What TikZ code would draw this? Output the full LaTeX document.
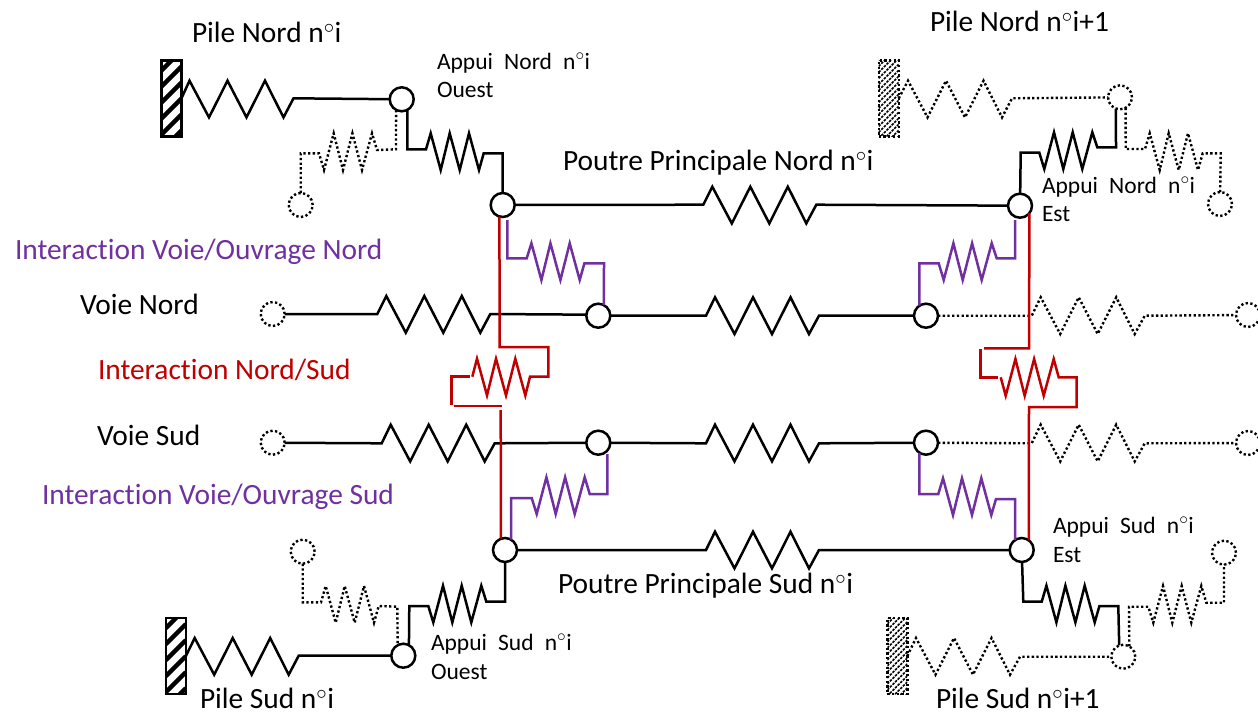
\documentclass[tikz,border=0pt]{standalone}
\usepackage{fontspec}
\setmainfont[Ligatures=CommonOff]{Carlito}
\definecolor{viol}{HTML}{7030A0}
\definecolor{rouge}{HTML}{C00000}
\newcommand\sprBig[3]{-- ({#1+9},{#2}) -- ({#1+28.5},{#2+36.7}) -- ({#1+47},{#2}) -- ({#1+66},{#2+36.7}) -- ({#1+84.5},{#2}) -- ({#1+103},{#2+36.7}) -- ({#1+113},{#3})}
\newcommand\sprUp[3]{-- ({#1+4.7},{#2}) -- ({#1+14.7},{#2+36.7}) -- ({#1+23.7},{#2}) -- ({#1+33.7},{#2+36.7}) -- ({#1+43},{#2}) -- ({#1+53},{#2+36.7}) -- ({#1+57.7},{#3})}
\newcommand\sprDn[3]{-- ({#1+5},{#2+36.7}) -- ({#1+14.7},{#2}) -- ({#1+24},{#2+36.7}) -- ({#1+33.4},{#2}) -- ({#1+43},{#2+36.7}) -- ({#1+53},{#2}) -- ({#1+58},{#3})}
\newcommand\degr{$^{\circ}$}
\tikzset{
  lien/.style={line width=2.5pt,line join=miter},
  noir/.style={lien,draw=black},
  pointille/.style={lien,draw=black,line width=2.4pt,dash pattern=on 2.3pt off 2.4pt},
  violet/.style={lien,draw=viol},
  rge/.style={lien,draw=rouge},
  appui/.style={circle,draw=black,fill=white,line width=2.5pt,minimum size=24pt,inner sep=0pt,outer sep=0pt},
  appuipt/.style={circle,draw=black,line width=2.4pt,dash pattern=on 2.3pt off 2.4pt,minimum size=24pt,inner sep=0pt,outer sep=0pt},
  pilesol/.style={rectangle,draw=black,fill=white,line width=2.5pt,minimum width=20pt,minimum height=76pt,inner sep=0pt,outer sep=0pt,
    path picture={\foreach \k in {-6,10,...,90}{\draw[black,line width=4.5pt] ([yshift=-\k pt]path picture bounding box.north west) -- ++(20,-20);}}},
  pilept/.style={rectangle,draw=black,line width=2.4pt,dash pattern=on 2.3pt off 2.4pt,minimum width=20pt,minimum height=76pt,inner sep=0pt,outer sep=0pt,
    path picture={\foreach \k in {-6,0,...,96}{\draw[black,line width=1.6pt,dash pattern=on 2.5pt off 1.2pt] ([yshift=-\k pt]path picture bounding box.north west) -- ++(20,-20);}}},
  lbl/.style={anchor=base west,inner sep=0pt,outer sep=0pt,yshift=-0.7pt,font=\fontsize{29.4}{33}\selectfont,text=black},
  lblp/.style={anchor=base west,inner sep=0pt,outer sep=0pt,yshift=-0.5pt,font=\fontsize{23.5}{27}\selectfont,text=black},
}
\begin{document}
\begin{tikzpicture}[x=1pt,y=-1pt]
\useasboundingbox (0,0) rectangle (1258,716);
\fill[white] (0,0) rectangle (1258,716);
% appuis
\node[appui] (ANO) at (401.7,99.3) {};
\node[appui] (PNO) at (502.7,205) {};
\node[appuipt] (DNO) at (300.7,205) {};
\node[appuipt] (ANE) at (1120,97.3) {};
\node[appui] (PNE) at (1020,205.7) {};
\node[appuipt] (DNE) at (1220,204) {};
\node[appuipt] (VNG) at (272.7,314) {};
\node[appui] (VN1) at (598.3,315.7) {};
\node[appui] (VN2) at (926,315.7) {};
\node[appuipt] (VND) at (1248,315) {};
\node[appuipt] (VSG) at (272.7,442.7) {};
\node[appui] (VS1) at (598.3,442.7) {};
\node[appui] (VS2) at (926,442.7) {};
\node[appuipt] (VSD) at (1248,443) {};
\node[appui] (PSO) at (505,550) {};
\node[appui] (PSE) at (1021.7,550) {};
\node[appuipt] (DSO) at (302.7,551.7) {};
\node[appuipt] (DSE) at (1224,552.7) {};
\node[appui] (ASO) at (403.3,655.7) {};
\node[appuipt] (ASE) at (1123.3,656.7) {};
% piles
\node[pilesol] (P1) at (171.3,98.7) {};
\node[pilept] (P2) at (888.7,98.4) {};
\node[pilesol] (P3) at (175.8,656.2) {};
\node[pilept] (P4) at (897.3,656) {};
% extremites libres
\coordinate (vp1) at (507.3,220);
\coordinate (vp2) at (1015,220);
\coordinate (vp3) at (607.3,454);
\coordinate (rn1) at (451.7,405);
\coordinate (rn2) at (453.5,406);
\coordinate (rn3) at (501.7,406);
\coordinate (rn4) at (980.7,349);
% ressorts de pile
\draw[noir] (P1.east) \sprBig{180.5}{80.7}{98.3} -- (ANO);
\draw[pointille] (P2.east) \sprBig{899}{80.7}{98.3} -- (ANE);
\draw[noir] (P3.east) \sprBig{185.7}{638}{655.7} -- (ASO);
\draw[pointille] (P4.east) \sprBig{907}{638}{656.7} -- (ASE);
% appareils d'appui
\draw[noir] (ANO.-62) -- (407.3,149.3) -- (426,149.3) \sprUp{426}{133.3}{153.3} -- (502.7,153.3) -- (PNO);
\draw[pointille] (DNO) -- (300.7,153.3) -- (319,153.3) \sprDn{319}{133.3}{150} -- (396,149.3) -- (ANO.-118);
\draw[noir] (PNE) -- (1020.7,152.7) -- (1039.3,152.7) \sprDn{1039.3}{132.3}{147.3} -- (1116,147.3) -- (ANE.-110);
\draw[pointille] (ANE.-62) -- (1125.7,149) -- (1145,149) \sprUp{1145}{133.3}{153.3} -- (1220.7,153.3) -- (DNE);
\draw[noir] (ASO.62) -- (409.3,606) -- (428.3,606) \sprDn{428.3}{585.7}{601.7} -- (505,601.7) -- (PSO);
\draw[pointille] (DSO) -- (302.7,602.3) -- (321,602.3) \sprUp{321}{586}{606} -- (397.3,606.7) -- (ASO.118);
\draw[noir] (PSE) -- (1023.3,601.7) -- (1041.7,601.7) \sprUp{1041.7}{585.7}{606} -- (1118.3,606) -- (ASE.110);
\draw[pointille] (ASE.60) -- (1129,606.7) -- (1148.3,606.7) \sprDn{1148.3}{586}{602.7} -- (1224,602.7) -- (DSE);
% poutres et voies
\draw[noir] (PNO) -- (703.3,204.7) \sprBig{703.3}{186.7}{204.7} -- (PNE);
\draw[noir] (VNG) -- (377.3,314) \sprBig{377.3}{296}{314} -- (VN1.175);
\draw[noir] (VN1) -- (706,315.7) \sprBig{706}{297.3}{315.7} -- (VN2);
\draw[pointille] (VN2) -- (1031.7,315.7) \sprBig{1031.7}{297.3}{315.7} -- (VND);
\draw[noir] (VSG) -- (381.7,443.3) \sprBig{381.7}{424.7}{443.3} -- (VS1);
\draw[noir] (VS1) -- (706,443.3) \sprBig{706}{424.7}{443.3} -- (VS2);
\draw[pointille] (VS2) -- (1031.7,443.3) \sprBig{1031.7}{424.7}{443.3} -- (VSD);
\draw[noir] (PSO) -- (706,550) \sprBig{706}{531.7}{550} -- (PSE);
% interactions voie/ouvrage
\draw[violet] (vp1) -- (507.3,258.3) -- (526.7,258.3) \sprUp{526.7}{243.3}{263.3} -- (604,263.3) -- (VN1.62);
\draw[violet] (VN2.123) -- (919.3,263.3) -- (938.7,263.3) \sprDn{938.7}{243.3}{258.3} -- (1015,258.3) -- (vp2);
\draw[violet] (PSO.60) -- (511,498) -- (531.7,498) \sprDn{531.7}{477.3}{494} -- (607.3,494) -- (vp3);
\draw[violet] (VS2.-123) -- (919.3,494) -- (938.3,494) \sprUp{938.3}{478.3}{499} -- (1015,499) -- (PSE.124);
% interaction nord/sud
\draw[rge] (472.3,376.7) \sprUp{472.3}{358.7}{376.7} -- (548.3,376.7) -- (548.3,347) -- (499.7,347) -- (PNO.-106);
\draw[rge] (470,376.7) -- (451.7,376.7) -- (rn1);
\draw[rge] (rn2) -- (rn3);
\draw[rge] (500.7,410) -- (PSO.110);
\draw[rge] (PNE.-38) -- (1029,348.3) -- (984,348.3);
\draw[rge] (rn4) -- (980.7,377.3) -- (998.3,377.3);
\draw[rge] (1000.7,377.3) \sprDn{1000.7}{359}{377.3} -- (1076.7,377.3) -- (1076.7,407) -- (1029,407) -- (PSE.54);
% textes
\node[lbl] (t1) at (192,42) {Pile Nord n\degr i};
\node[lblp] (t2) at (437,69) {Appui\hspace{.25em} Nord\hspace{.25em} n\degr i};
\node[lblp] (t3) at (437,97) {Ouest};
\node[lbl] (t4) at (930,31) {Pile Nord n\degr i+1};
\node[lbl] (t5) at (563,170) {Poutre Principale Nord n\degr i};
\node[lblp] (t6) at (1042,192.7) {Appui\hspace{.25em} Nord\hspace{.25em} n\degr i};
\node[lblp] (t7) at (1042,220.7) {Est};
\node[lbl,text=viol] (t8) at (15,259) {Interaction Voie/Ouvrage Nord};
\node[lbl] (t9) at (80,314) {Voie Nord};
\node[lbl,text=rouge] (t10) at (98,379) {Interaction Nord/Sud};
\node[lbl] (t11) at (97,445) {Voie Sud};
\node[lbl,text=viol] (t12) at (42,504) {Interaction Voie/Ouvrage Sud};
\node[lbl] (t13) at (558,593) {Poutre Principale Sud n\degr i};
\node[lblp] (t14) at (1053,533) {Appui\hspace{.25em} Sud\hspace{.25em} n\degr i};
\node[lblp] (t15) at (1053,561.7) {Est};
\node[lblp] (t16) at (431,650) {Appui\hspace{.25em} Sud\hspace{.25em} n\degr i};
\node[lblp] (t17) at (431,678.7) {Ouest};
\node[lbl] (t18) at (200,708) {Pile Sud n\degr i};
\node[lbl] (t19) at (936,708) {Pile Sud n\degr i+1};
\end{tikzpicture}
\end{document}
